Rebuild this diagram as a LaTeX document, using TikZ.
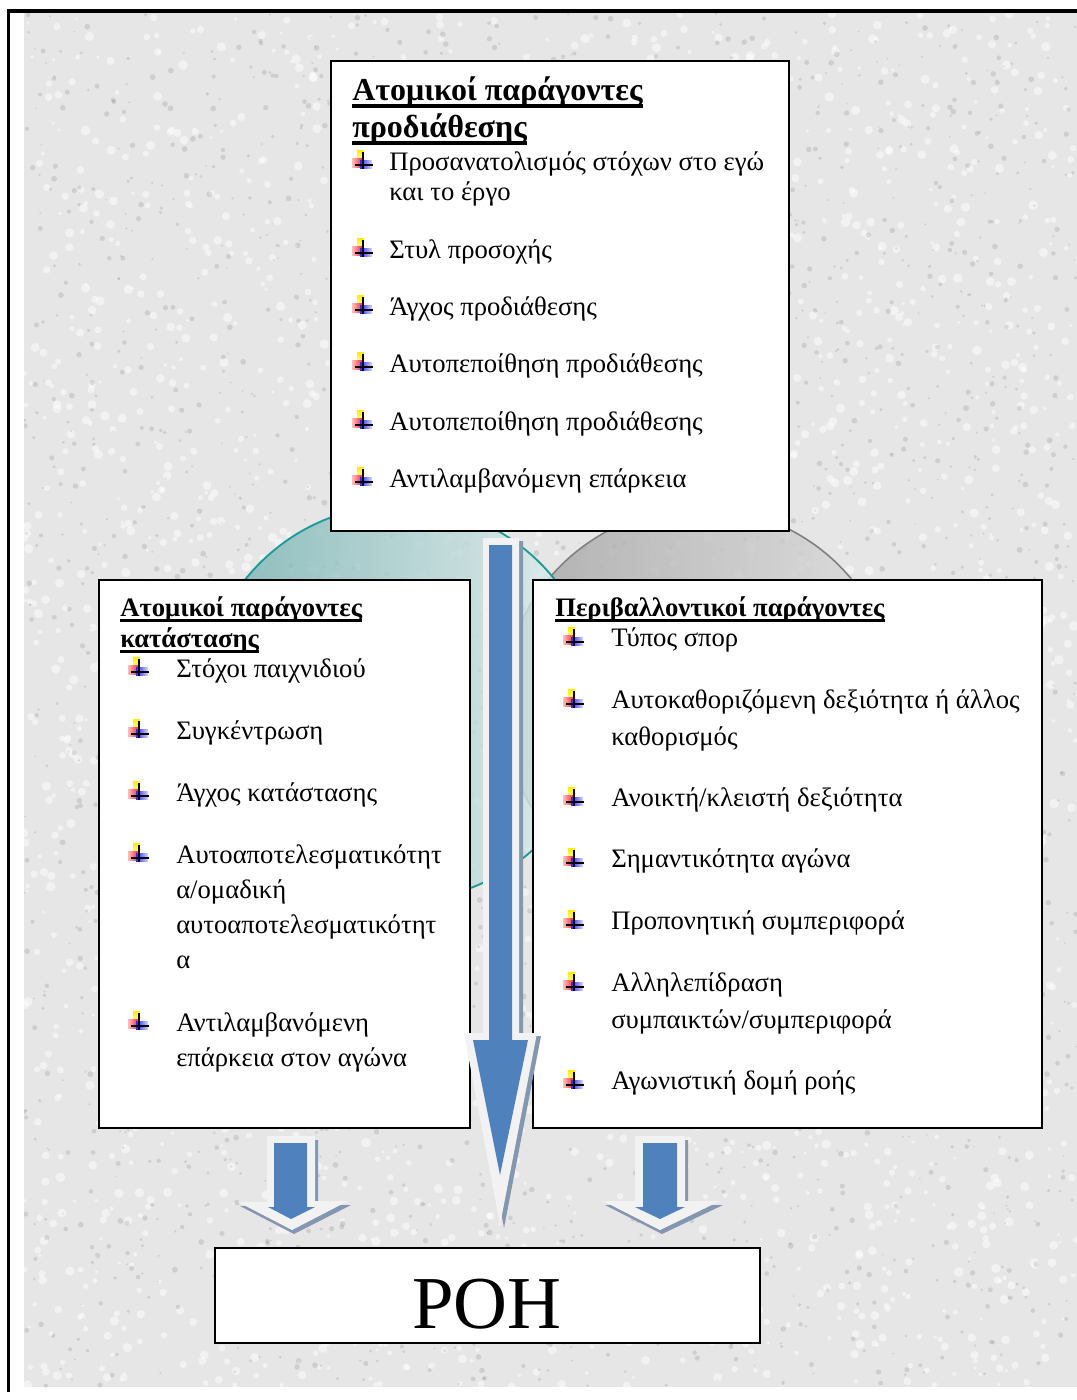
\documentclass[tikz,border=0pt]{standalone}
\usepackage{fontspec}
\setmainfont{Liberation Serif}
\usetikzlibrary{fit}

\definecolor{stonebase}{HTML}{E6E6E6}
\definecolor{arrowblue}{HTML}{4F81BD}
\definecolor{arrowrim}{HTML}{F2F2F2}
\definecolor{arrowshade}{HTML}{8497B0}
\definecolor{tealline}{HTML}{1E9A9A}
\definecolor{tealfill}{HTML}{6FAEAE}
\definecolor{tealpale}{HTML}{E6F0F0}
\definecolor{greyline}{HTML}{808080}
\definecolor{greyfill}{HTML}{A2A2A2}
\definecolor{greypale}{HTML}{DCDCDC}

\newcommand\bodyfont{\fontsize{20}{24}\selectfont}
\newcommand\tophdfont{\fontsize{24}{28}\selectfont\bfseries}
\newcommand\sidehdfont{\fontsize{20}{24}\selectfont\bfseries}

\tikzset{
  box/.style={draw=black, line width=1.6pt, fill=white, inner sep=0pt},
  item/.style={font=\bodyfont, inner sep=0pt, anchor=base west},
  tophd/.style={font=\tophdfont, inner sep=0pt, anchor=base west},
  sidehd/.style={font=\sidehdfont, inner sep=0pt, anchor=base west},
  ul/.style={line width=2.3pt},
  bul/.pic={
    \shade[top color=yellow!85!orange, bottom color=yellow!35] (-6,-15) rectangle (1,-4);
    \shade[left color=red!25, right color=red!80] (-11,-7) rectangle (-1,2);
    \shade[left color=blue!85, right color=blue!15] (-3,-5) rectangle (9,3);
    \draw[line width=1.2pt] (0,-13) -- (0,4);
    \draw[line width=1.2pt] (-8,0) -- (10,0);
  }
}

\begin{document}
\begin{tikzpicture}[x=0.75pt,y=-0.75pt]
\useasboundingbox (0,0) rectangle (1077,1400);

% stone texture
\begin{scope}
  \clip (24,13) rectangle (1077,1387);
  \fill[stonebase] (24,13) rectangle (1077,1387);
  \pgfmathsetseed{1234}
  \foreach \k in {1,...,2600}{
    \pgfmathsetmacro{\px}{24+1053*rnd}
    \pgfmathsetmacro{\py}{13+1374*rnd}
    \pgfmathsetmacro{\pr}{1.2+2.4*rnd}
    \fill[white, opacity=0.5] (\px,\py) circle[radius=\pr pt];
  }
  \foreach \k in {1,...,2600}{
    \pgfmathsetmacro{\px}{24+1053*rnd}
    \pgfmathsetmacro{\py}{13+1374*rnd}
    \pgfmathsetmacro{\pr}{0.6+1.6*rnd}
    \fill[black, opacity=0.1] (\px,\py) circle[radius=\pr pt];
  }
\end{scope}

% frame
\draw[line width=2.3pt] (8.5,1392) -- (8.5,11) -- (1077,11);

% overlapping circles
\shade[left color=greyfill, right color=greypale, fill opacity=0.8] (700,705) circle[radius=197];
\draw[greyline, line width=1.2pt] (700,705) circle[radius=197];
\shade[left color=tealfill, right color=tealpale, fill opacity=0.8] (400,703) circle[radius=198];
\draw[tealline, line width=1.4pt] (400,703) circle[radius=198];

% boxes
\node[box, fit={(331,61) (789,531)}] (topbox) {};
\node[box, fit={(99,580) (470,1128)}] (leftbox) {};
\node[box, fit={(533,580) (1042,1128)}] (rightbox) {};
\node[box, fit={(215,1248) (760,1343)}] (flowbox) {};

% top box
\node[tophd] (th1) at (352,100) {Ατομικοί παράγοντες};
\node[tophd] (th2) at (352,137) {προδιάθεσης};
\draw[ul, line width=2.6pt] ([yshift=-4.5pt]th1.base west) -- ([yshift=-4.5pt]th1.base east);
\draw[ul, line width=2.6pt] ([yshift=-4.5pt]th2.base west) -- ([yshift=-4.5pt]th2.base east);
\pic at (363,165) {bul};
\node[item] (ta1) at (389,170) {Προσανατολισμός στόχων στο εγώ};
\node[item] (ta2) at (389,200) {και το έργο};
\pic at (363,253) {bul};
\node[item] (tb) at (389,258) {Στυλ προσοχής};
\pic at (363,310) {bul};
\node[item] (tc) at (389,315) {Άγχος προδιάθεσης};
\pic at (363,367) {bul};
\node[item] (td) at (389,372) {Αυτοπεποίθηση προδιάθεσης};
\pic at (363,425) {bul};
\node[item] (te) at (389,430) {Αυτοπεποίθηση προδιάθεσης};
\pic at (363,482) {bul};
\node[item] (tf) at (389,487) {Αντιλαμβανόμενη επάρκεια};

% left box
\node[sidehd] (lh1) at (120,616) {Ατομικοί παράγοντες};
\node[sidehd] (lh2) at (120,647) {κατάστασης};
\draw[ul] ([yshift=-3.4pt]lh1.base west) -- ([yshift=-3.4pt]lh1.base east);
\draw[ul] ([yshift=-3.4pt]lh2.base west) -- ([yshift=-3.4pt]lh2.base east);
\pic at (139,672) {bul};
\node[item] (la) at (176,677) {Στόχοι παιχνιδιού};
\pic at (139,734) {bul};
\node[item] (lb) at (176,739) {Συγκέντρωση};
\pic at (139,796) {bul};
\node[item] (lc) at (176,801) {Άγχος κατάστασης};
\pic at (139,858) {bul};
\node[item] (ld1) at (176,863) {Αυτοαποτελεσματικότητ};
\node[item] (ld2) at (176,898) {α/ομαδική};
\node[item] (ld3) at (176,933) {αυτοαποτελεσματικότητ};
\node[item] (ld4) at (176,968) {α};
\pic at (139,1026) {bul};
\node[item] (le1) at (176,1031) {Αντιλαμβανόμενη};
\node[item] (le2) at (176,1066) {επάρκεια στον αγώνα};

% right box
\node[sidehd] (rh) at (555,616) {Περιβαλλοντικοί παράγοντες};
\draw[ul] ([yshift=-3.4pt]rh.base west) -- ([yshift=-3.4pt]rh.base east);
\pic at (574,642) {bul};
\node[item] (ra) at (611,646) {Τύπος σπορ};
\pic at (574,704) {bul};
\node[item] (rb1) at (611,708) {Αυτοκαθοριζόμενη δεξιότητα ή άλλος};
\node[item] (rb2) at (611,745) {καθορισμός};
\pic at (574,802) {bul};
\node[item] (rc) at (611,806) {Ανοικτή/κλειστή δεξιότητα};
\pic at (574,863) {bul};
\node[item] (rd) at (611,867) {Σημαντικότητα αγώνα};
\pic at (574,925) {bul};
\node[item] (re) at (611,929) {Προπονητική συμπεριφορά};
\pic at (574,987) {bul};
\node[item] (rf1) at (611,991) {Αλληλεπίδραση};
\node[item] (rf2) at (611,1028) {συμπαικτών/συμπεριφορά};
\pic at (574,1085) {bul};
\node[item] (rg) at (611,1089) {Αγωνιστική δομή ροής};

% flow box text
\node[font=\fontsize{56}{60}\selectfont, inner sep=0pt, anchor=base] (flow) at (487,1328) {ΡΟΗ};

% central block arrow: shadow, rim, body
\fill[arrowshade] (487,541) -- (523,541) -- (523,1036) -- (541,1036) -- (504,1228) -- (468,1036) -- (487,1036) -- cycle;
\fill[arrowrim] (483,538) -- (519,538) -- (519,1033) -- (537,1033) -- (500,1225) -- (464,1033) -- (483,1033) -- cycle;
\fill[arrowblue] (489,545) -- (512,545) -- (512,1040) -- (528,1040) -- (500,1175) -- (473,1040) -- (489,1040) -- cycle;

% left block arrow
\fill[arrowshade] (270,1140) -- (318,1140) -- (318,1205) -- (351,1205) -- (294,1234) -- (240,1206) -- (270,1206) -- cycle;
\fill[arrowrim] (267,1136) -- (315,1136) -- (315,1201) -- (348,1201) -- (292,1230) -- (238,1202) -- (267,1202) -- cycle;
\fill[arrowblue] (274,1143) -- (307,1143) -- (307,1207) -- (315,1207) -- (291,1219) -- (268,1207) -- (274,1207) -- cycle;

% right block arrow
\fill[arrowshade] (638,1140) -- (688,1140) -- (688,1205) -- (723,1205) -- (662,1234) -- (605,1205) -- (638,1205) -- cycle;
\fill[arrowrim] (635,1136) -- (685,1136) -- (685,1201) -- (720,1201) -- (660,1230) -- (603,1201) -- (635,1201) -- cycle;
\fill[arrowblue] (643,1143) -- (677,1143) -- (677,1207) -- (685,1207) -- (660,1219) -- (635,1207) -- (643,1207) -- cycle;

\end{tikzpicture}
\end{document}
